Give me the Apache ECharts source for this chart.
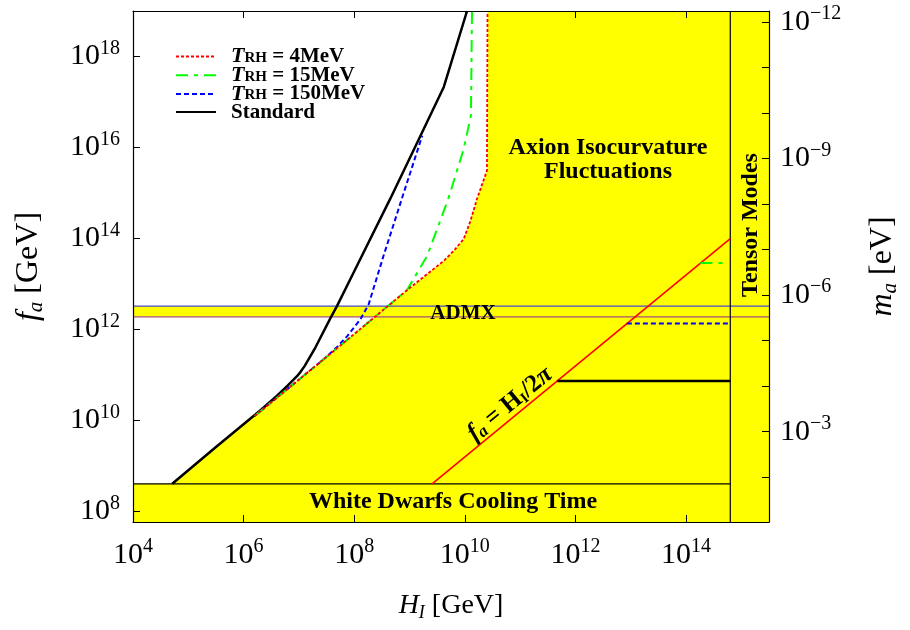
<!DOCTYPE html>
<html><head><meta charset="utf-8">
<script src="https://cdn.jsdelivr.net/npm/echarts@6/dist/echarts.min.js"></script>
<style>html,body{margin:0;padding:0;background:#fff}#c{width:910px;height:630px}</style>
</head><body><div id="c"></div>
<script>
// All values are log10 exponents: x = log10(H_I/GeV), y = log10(f_a/GeV)
const xTicks = [4, 6, 8, 10, 12, 14];
const yTicks = [8, 10, 12, 14, 16, 18];
const maTicks = [-12, -11, -10, -9, -8, -7, -6, -5, -4, -3, -2];
const maLabels = [-12, -9, -6, -3];
const xRange = [4, 15.5];
const yRange = [7.77, 19.0];
const maOffset = 6.756; // log10(m_a/eV) = 6.756 - log10(f_a/GeV)

const standardCurve = [[4.71, 8.61], [5.5, 9.42], [6.3, 10.22], [6.6, 10.54], [6.8, 10.77], [6.97, 10.98], [7.03, 11.07], [7.1, 11.19], [7.3, 11.61], [7.57, 12.25], [7.69, 12.52], [8.05, 13.40], [8.65, 14.87], [9.14, 16.11], [9.62, 17.33], [10.04, 19.0]];
const standardFlat = [[11.67, 10.87], [14.8, 10.87]];
const trh4Curve = [[6.2, 10.1], [7.0, 10.9], [8.0, 11.9], [8.95, 12.86], [9.62, 13.51], [9.8, 13.73], [9.98, 13.99], [10.1, 14.38], [10.22, 14.87], [10.40, 15.49], [10.41, 19.0]];
const trh15Curve = [[6.2, 10.1], [8.0, 11.9], [8.95, 12.86], [9.32, 13.62], [9.7, 14.87], [9.98, 15.97], [10.11, 16.70], [10.13, 19.0]];
const trh15Flat = [[14.26, 13.46], [14.74, 13.46]];
const trh150Curve = [[6.2, 10.1], [7.5, 11.4], [7.7, 11.63], [7.87, 11.85], [8.11, 12.22], [8.26, 12.55], [8.53, 13.62], [8.86, 14.87], [9.23, 16.26]];
const trh150Flat = [[12.93, 12.13], [14.79, 12.13]];
const hubbleLine = [[9.408, 8.61], [14.8, 14.0]];
const whiteDwarfTop = 8.61;
const admxBand = [12.28, 12.515];
const tensorLimit = 14.8;

const FONT = 'Liberation Serif';
const YELLOW = '#ffff00';
const sup = v => '{b|10}{s|' + String(v).replace('-', '\u2212') + '}';
const tickRich = {
  b: { fontSize: 30, fontFamily: FONT, color: '#000', lineHeight: 36 },
  s: { fontSize: 20, fontFamily: FONT, color: '#000', lineHeight: 17, verticalAlign: 'top' }
};
function nameRich(size) {
  return {
    i: { fontSize: size, fontFamily: FONT, fontStyle: 'italic', color: '#000', lineHeight: size + 4 },
    sub: { fontSize: Math.round(size * 0.66), fontFamily: FONT, fontStyle: 'italic', color: '#000', lineHeight: 10, verticalAlign: 'bottom' },
    t: { fontSize: size, fontFamily: FONT, color: '#000', lineHeight: size + 4 }
  };
}

function rectSeries(x0, x1, y0, y1, z) {
  return {
    type: 'custom', silent: true, z: z, data: [0], clip: true,
    renderItem: (params, api) => {
      const p1 = api.coord([x0, y1]);
      const p2 = api.coord([x1, y0]);
      return { type: 'rect', shape: { x: p1[0], y: p1[1], width: p2[0] - p1[0], height: p2[1] - p1[1] }, style: { fill: YELLOW } };
    }
  };
}
function segSeries(pts, color, width, z) {
  return {
    type: 'line', silent: true, z: z, data: pts, symbol: 'none', animation: false,
    lineStyle: { color: color, width: width }
  };
}

const excluded = [standardCurve[0]].concat(trh4Curve, [[xRange[1], yRange[1]], [xRange[1], whiteDwarfTop]]);

const series = [
  {
    type: 'custom', silent: true, z: 1, data: [0], clip: true,
    renderItem: (params, api) => ({
      type: 'polygon', shape: { points: excluded.map(p => api.coord(p)) }, style: { fill: YELLOW }
    })
  },
  rectSeries(xRange[0], xRange[1], yRange[0], whiteDwarfTop, 1),
  rectSeries(tensorLimit, xRange[1], yRange[0], yRange[1], 1),
  rectSeries(xRange[0], xRange[1], admxBand[0], admxBand[1], 2),
  segSeries([[xRange[0], admxBand[1]], [xRange[1], admxBand[1]]], '#4a4ad0', 1.2, 2),
  segSeries([[xRange[0], admxBand[0]], [xRange[1], admxBand[0]]], '#a8507a', 1.2, 2),
  segSeries([[xRange[0], whiteDwarfTop], [tensorLimit, whiteDwarfTop]], '#000', 1.2, 2),
  segSeries([[tensorLimit, yRange[0]], [tensorLimit, yRange[1]]], '#000', 1.2, 2),
  segSeries(hubbleLine, '#ff0000', 1.6, 3),
  { name: 'Standard', type: 'line', z: 4, data: standardCurve, symbol: 'none', animation: false, lineStyle: { color: '#000', width: 2.5 }, itemStyle: { color: '#000' } },
  { name: 'Standard', type: 'line', z: 4, data: standardFlat, symbol: 'none', animation: false, lineStyle: { color: '#000', width: 2.5 }, itemStyle: { color: '#000' } },
  { name: 'T_RH = 150MeV', type: 'line', z: 5, data: trh150Curve, symbol: 'none', animation: false, lineStyle: { color: '#0000ff', width: 2, type: [5, 3] }, itemStyle: { color: '#0000ff' } },
  { name: 'T_RH = 150MeV', type: 'line', z: 5, data: trh150Flat, symbol: 'none', animation: false, lineStyle: { color: '#0000ff', width: 2, type: [5, 3] }, itemStyle: { color: '#0000ff' } },
  { name: 'T_RH = 15MeV', type: 'line', z: 5, data: trh15Curve, symbol: 'none', animation: false, lineStyle: { color: '#00ff00', width: 2, type: [12, 6, 4, 6] }, itemStyle: { color: '#00ff00' } },
  { name: 'T_RH = 15MeV', type: 'line', z: 5, data: trh15Flat, symbol: 'none', animation: false, lineStyle: { color: '#00ff00', width: 2, type: [12, 6, 4, 6] }, itemStyle: { color: '#00ff00' } },
  { name: 'T_RH = 4MeV', type: 'line', z: 6, data: trh4Curve, symbol: 'none', animation: false, lineStyle: { color: '#ff0000', width: 1.8, type: [3, 2] }, itemStyle: { color: '#ff0000' } }
];

const chart = echarts.init(document.getElementById('c'), null, { renderer: 'canvas' });
const axisCommon = {
  type: 'value', z: 10,
  axisLine: { show: true, onZero: false, lineStyle: { color: '#000', width: 1.2 } },
  axisTick: { show: true, inside: true, length: 7, lineStyle: { color: '#000', width: 1 } },
  splitLine: { show: false }
};
chart.setOption({
  animation: false,
  backgroundColor: '#fff',
  grid: { left: 133, top: 11, width: 636, height: 511, show: false },
  legend: {
    data: ['T_RH = 4MeV', 'T_RH = 15MeV', 'T_RH = 150MeV', 'Standard'],
    orient: 'vertical', left: 170, top: 40.5, itemWidth: 40, itemHeight: 14, itemGap: -3.3,
    selectedMode: false,
    itemStyle: { opacity: 0, borderWidth: 0 },
    formatter: n => n.indexOf('T_RH') === 0 ? '{i|T}{sub|RH}{t|' + n.slice(4) + '}' : '{t|' + n + '}',
    textStyle: {
      padding: [0, 0, 0, 10],
      rich: {
        i: { fontSize: 22, fontFamily: FONT, fontStyle: 'italic', fontWeight: 'bold', color: '#000', lineHeight: 18 },
        sub: { fontSize: 15, fontFamily: FONT, fontWeight: 'bold', color: '#000', lineHeight: 8, verticalAlign: 'bottom' },
        t: { fontSize: 21, fontFamily: FONT, fontWeight: 'bold', color: '#000', lineHeight: 18 }
      }
    }
  },
  xAxis: [
    Object.assign({}, axisCommon, {
      position: 'bottom', min: xRange[0], max: xRange[1],
      axisTick: Object.assign({}, axisCommon.axisTick, { customValues: xTicks }),
      axisLabel: { customValues: xTicks, margin: 15, formatter: sup, rich: tickRich },
      name: '{i|H}{sub|I}{t| [GeV]}', nameLocation: 'middle', nameGap: 68,
      nameTextStyle: { rich: nameRich(28) }
    }),
    Object.assign({}, axisCommon, {
      position: 'top', min: xRange[0], max: xRange[1],
      axisTick: Object.assign({}, axisCommon.axisTick, { customValues: xTicks }),
      axisLabel: { show: false }
    })
  ],
  yAxis: [
    Object.assign({}, axisCommon, {
      position: 'left', min: yRange[0], max: yRange[1],
      axisTick: Object.assign({}, axisCommon.axisTick, { customValues: yTicks }),
      axisLabel: { customValues: yTicks, margin: 13, formatter: sup, rich: tickRich },
      name: '{i|f}{sub|a}{t| [GeV]}', nameLocation: 'middle', nameGap: 86,
      nameTextStyle: { rich: nameRich(32) }
    }),
    Object.assign({}, axisCommon, {
      position: 'right', inverse: true,
      min: maOffset - yRange[1], max: maOffset - yRange[0],
      axisTick: Object.assign({}, axisCommon.axisTick, { customValues: maTicks }),
      axisLabel: { customValues: maLabels, margin: 11, formatter: sup, rich: tickRich },
      name: '{i|m}{sub|a}{t| [eV]}', nameLocation: 'middle', nameGap: 96, nameRotate: 90,
      nameTextStyle: { rich: nameRich(32) }
    })
  ],
  series: series,
  graphic: [
    { type: 'text', z: 20, x: 608, y: 148, style: { text: 'Axion Isocurvature', font: 'bold 24px "Liberation Serif"', fill: '#000', align: 'center', verticalAlign: 'middle' } },
    { type: 'text', z: 20, x: 608, y: 172, style: { text: 'Fluctuations', font: 'bold 24px "Liberation Serif"', fill: '#000', align: 'center', verticalAlign: 'middle' } },
    { type: 'text', z: 20, x: 463, y: 314, style: { text: 'ADMX', font: 'bold 21px "Liberation Serif"', fill: '#000', align: 'center', verticalAlign: 'middle' } },
    { type: 'text', z: 20, x: 453, y: 502, style: { text: 'White Dwarfs Cooling Time', font: 'bold 24px "Liberation Serif"', fill: '#000', align: 'center', verticalAlign: 'middle' } },
    { type: 'text', z: 20, x: 751, y: 225, rotation: Math.PI / 2, style: { text: 'Tensor Modes', font: 'bold 24px "Liberation Serif"', fill: '#000', align: 'center', verticalAlign: 'middle' } },
    { type: 'text', z: 20, x: 510, y: 404, rotation: 0.688, style: {
        text: '{i|f}{sa|a}{t| = H}{sb|I}{t|/2}{i|\u03c0}', align: 'center', verticalAlign: 'middle',
        rich: {
          i: { fontSize: 25, fontFamily: FONT, fontStyle: 'italic', fontWeight: 'bold', fill: '#000', lineHeight: 26 },
          sa: { fontSize: 17, fontFamily: FONT, fontStyle: 'italic', fontWeight: 'bold', fill: '#000', lineHeight: 10, verticalAlign: 'bottom' },
          sb: { fontSize: 15, fontFamily: FONT, fontWeight: 'bold', fill: '#000', lineHeight: 10, verticalAlign: 'bottom' },
          t: { fontSize: 25, fontFamily: FONT, fontWeight: 'bold', fill: '#000', lineHeight: 26 }
        }
    } }
  ]
});
</script></body></html>
